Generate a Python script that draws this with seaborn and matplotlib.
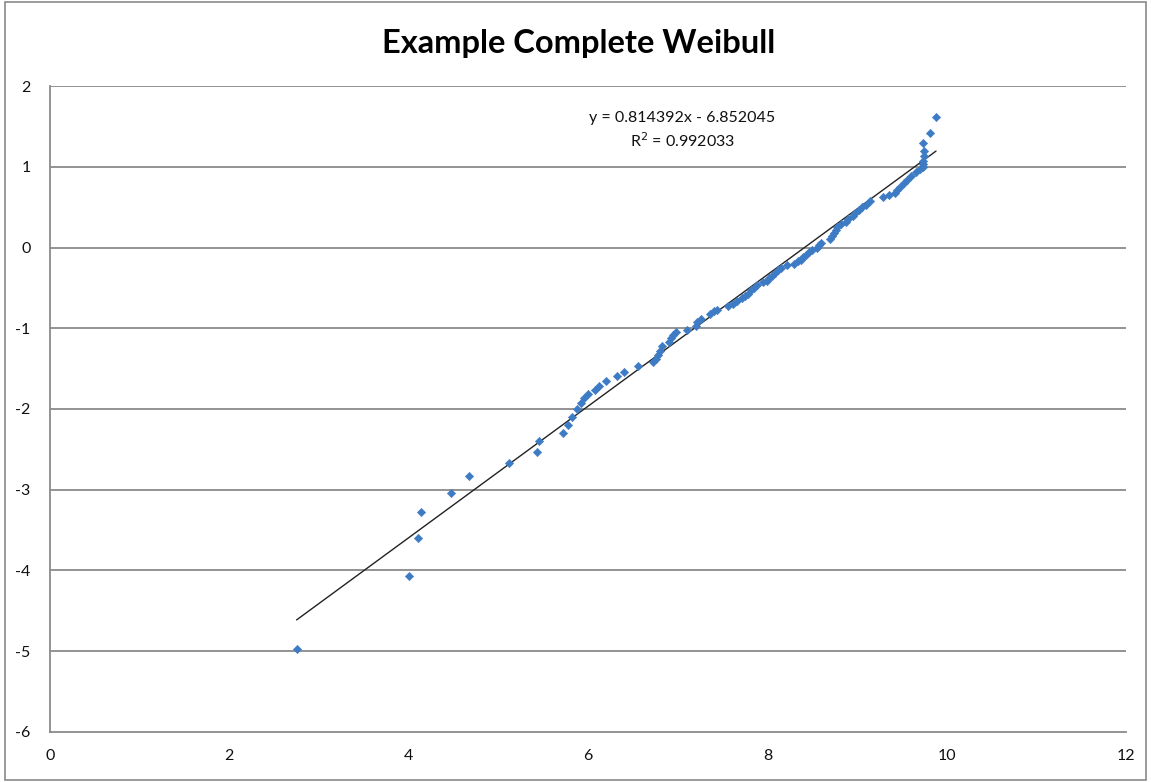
import matplotlib
matplotlib.use("Agg")
import matplotlib.pyplot as plt
import seaborn as sns
import numpy as np
import pandas as pd
from matplotlib.patches import Rectangle

# values (ln(t) vs ln(-ln(1-F)))
x_vals = [2.75, 4.00, 4.10, 4.14, 4.47, 4.67, 5.12, 5.43, 5.45, 5.72, 5.78, 5.82,
          5.88, 5.92, 5.95, 6.00, 6.08, 6.12, 6.20, 6.32, 6.40, 6.56, 6.72, 6.76,
          6.78, 6.80, 6.82, 6.90, 6.92, 6.95, 6.98, 7.10, 7.20, 7.22, 7.26, 7.36,
          7.40, 7.44, 7.56, 7.62, 7.66, 7.72, 7.75, 7.78, 7.82, 7.85, 7.88, 7.95,
          8.00, 8.02, 8.05, 8.08, 8.12, 8.15, 8.22, 8.30, 8.34, 8.38, 8.40, 8.43,
          8.46, 8.50, 8.55, 8.58, 8.60, 8.70, 8.72, 8.74, 8.76, 8.78, 8.82, 8.88,
          8.90, 8.95, 8.98, 9.02, 9.06, 9.10, 9.14, 9.29, 9.36, 9.42, 9.45, 9.48,
          9.52, 9.56, 9.60, 9.66, 9.70, 9.73, 9.74, 9.74, 9.75, 9.75, 9.74, 9.81,
          9.88]
y_vals = [-4.97, -4.07, -3.60, -3.27, -3.04, -2.83, -2.67, -2.53, -2.40, -2.30, -2.20, -2.10,
          -2.00, -1.93, -1.87, -1.82, -1.77, -1.72, -1.65, -1.59, -1.54, -1.47, -1.42, -1.38,
          -1.33, -1.28, -1.22, -1.17, -1.12, -1.08, -1.05, -1.02, -0.97, -0.92, -0.88, -0.82,
          -0.79, -0.77, -0.73, -0.70, -0.66, -0.63, -0.60, -0.57, -0.53, -0.50, -0.47, -0.43,
          -0.41, -0.38, -0.35, -0.31, -0.28, -0.25, -0.22, -0.20, -0.17, -0.15, -0.12, -0.09,
          -0.05, -0.03, 0.00, 0.03, 0.06, 0.10, 0.14, 0.18, 0.22, 0.26, 0.29, 0.32,
          0.35, 0.39, 0.43, 0.47, 0.50, 0.53, 0.57, 0.63, 0.65, 0.68, 0.71, 0.75,
          0.80, 0.84, 0.88, 0.93, 0.97, 1.00, 1.03, 1.07, 1.13, 1.19, 1.29, 1.42,
          1.62]

slope = 0.814392
intercept = -6.852045
r2 = 0.992033

title = "Example Complete Weibull"
x_ticks = [0, 2, 4, 6, 8, 10, 12]
y_ticks = [-6, -5, -4, -3, -2, -1, 0, 1, 2]

df = pd.DataFrame({"x": x_vals, "y": y_vals})

sns.set_style("white")
plt.rcParams["font.family"] = ["Lato", "DejaVu Sans"]
plt.rcParams["axes.unicode_minus"] = False

fig = plt.figure(figsize=(11.51, 7.82), dpi=100)
ax = fig.add_axes([0.0434, 0.064, 0.9350, 0.826])

grid_col = "#8a8a8a"
for yv in y_ticks[1:]:
    ax.axhline(yv, color=grid_col, lw=1.3, zorder=0)

# linear trendline over the data range
line_x = np.array([min(x_vals), max(x_vals)])
ax.plot(line_x, slope * line_x + intercept, color="#222222", lw=1.0, zorder=2)

sns.scatterplot(data=df, x="x", y="y", marker="D", s=18, color="#3D7CC5",
                edgecolor="#3D7CC5", linewidth=0.4, ax=ax, zorder=3)

ax.set_xlim(0, 12)
ax.set_ylim(-6, 2)
ax.set_xticks(x_ticks)
ax.set_yticks(y_ticks)
ax.set_xlabel("")
ax.set_ylabel("")
for side in ["top", "right"]:
    ax.spines[side].set_visible(False)
for side in ["left", "bottom"]:
    ax.spines[side].set_color(grid_col)
    ax.spines[side].set_linewidth(1.3)
ax.tick_params(axis="both", direction="out", length=6, width=1.2, color=grid_col,
               labelsize=11.5, labelcolor="#111111")
ax.tick_params(axis="x", pad=6)
ax.tick_params(axis="y", pad=8)

ax.text(7.05, 1.6, "y = %.6fx - %.6f" % (slope, -intercept), ha="center",
        va="center", fontsize=11.5, color="#111111")
ax.text(7.05, 1.32, "R$^2$ = %.6f" % r2, ha="center", va="center",
        fontsize=11.5, color="#111111")

fig.text(0.5025, 0.945, title, ha="center", va="center", fontsize=23.5,
         fontweight="bold", color="#000000")

fig.patches.append(Rectangle((0.004, 0.003), 0.992, 0.994, transform=fig.transFigure,
                             fill=False, edgecolor="#8a8a8a", lw=1.2))

fig.savefig("out.png", dpi=100)
